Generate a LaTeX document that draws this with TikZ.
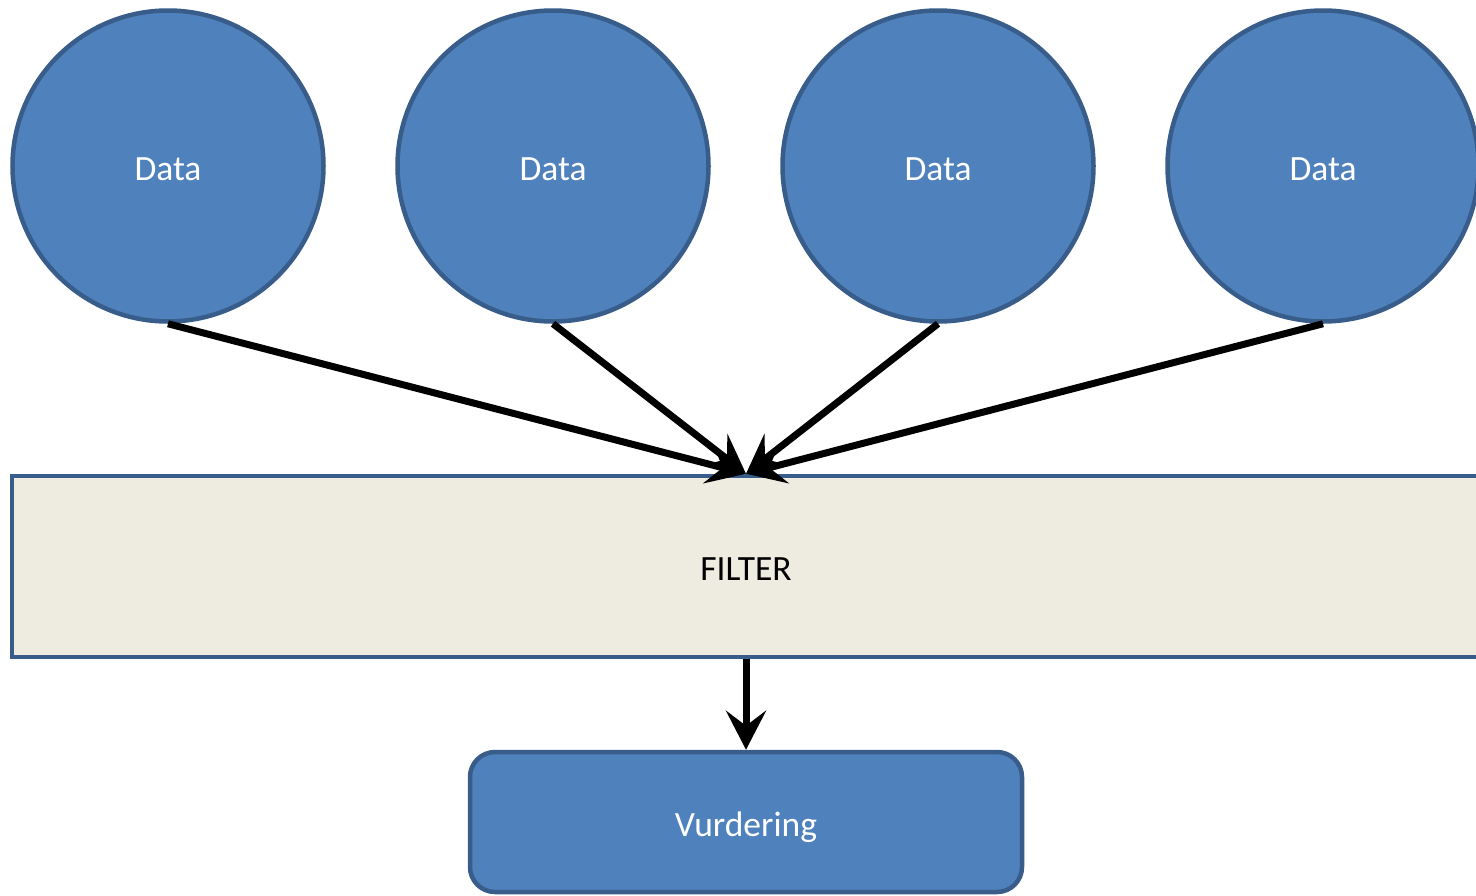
\documentclass[tikz,border=0pt]{standalone}
\usepackage{fontspec}
\setmainfont{Carlito}
\usepackage{xcolor}
\usetikzlibrary{shapes,arrows,positioning,calc,arrows.meta}

\definecolor{dataBlue}{HTML}{4F81BD}
\definecolor{edgeBlue}{HTML}{385D8A}
\definecolor{filterBeige}{HTML}{EEECE1}

\begin{document}
\begin{tikzpicture}[x=1pt, y=-1pt,
    box text/.style={font=\fontsize{35.5}{40}\selectfont, text height=28pt, text depth=0pt},
    data node/.style={circle, draw=edgeBlue, fill=dataBlue, line width=4.5pt, minimum size=311pt, inner sep=0pt, text=white, box text},
    filter block/.style={draw=edgeBlue, fill=filterBeige, rectangle, line width=4.5pt, minimum width=1468pt, minimum height=181pt, box text},
    vurdering block/.style={draw=edgeBlue, fill=dataBlue, rectangle, rounded corners=25pt, line width=4.5pt, minimum width=552pt, minimum height=140pt, text=white, box text},
    flow arrow/.style={line width=7pt, -{Stealth[length=39pt, width=40pt, inset=15pt]}}]
    \useasboundingbox (0,0) rectangle (1476,895);
    \clip (0,0) rectangle (1476,895);

    % Data sources
    \node[data node] (data1) at (168,166) {Data};
    \node[data node] (data2) at (553,166) {Data};
    \node[data node] (data3) at (938,166) {Data};
    \node[data node] (data4) at (1323,166) {Data};

    % Filter and result
    \node[filter block] (filter) at (746,566.5) {FILTER};
    \node[vurdering block] (vurdering) at (746,822) {Vurdering};

    % Connections
    \draw[flow arrow] (data1.south) -- (filter.north);
    \draw[flow arrow] (data2.south) -- (filter.north);
    \draw[flow arrow] (data3.south) -- (filter.north);
    \draw[flow arrow] (data4.south) -- (filter.north);
    \draw[flow arrow] (filter.south) -- (vurdering.north);

\end{tikzpicture}
\end{document}
